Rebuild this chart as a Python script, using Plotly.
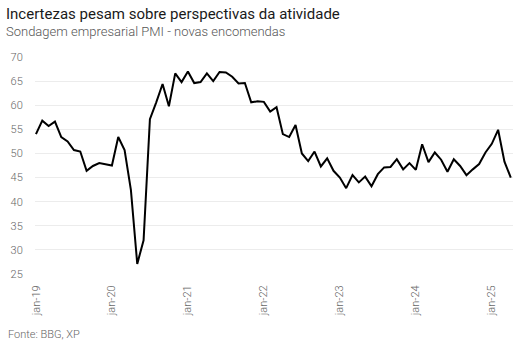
import plotly.graph_objects as go

# Monthly PMI new orders, Jan-2019 .. Apr-2025
months = []
for yr in range(2019, 2026):
    for m in range(1, 13):
        months.append(f"{yr}-{m:02d}")
months = months[:76]

values = [
    # 2019
    54.0, 56.8, 55.7, 56.6, 53.4, 52.5, 50.7, 50.4, 46.4, 47.4, 48.0, 47.7,
    # 2020
    47.5, 53.4, 50.7, 42.4, 27.1, 32.0, 57.1, 60.6, 64.4, 59.8, 66.6, 64.8,
    # 2021
    67.0, 64.6, 64.8, 66.6, 65.0, 66.9, 66.8, 65.9, 64.5, 64.6, 60.6, 60.8,
    # 2022
    60.7, 58.7, 59.6, 54.0, 53.4, 55.9, 50.0, 48.4, 50.4, 47.3, 49.0, 46.4,
    # 2023
    45.0, 42.8, 45.5, 44.0, 45.2, 43.2, 45.7, 47.1, 47.2, 48.8, 46.7, 48.0,
    # 2024
    46.6, 51.9, 48.2, 50.2, 48.7, 46.2, 48.8, 47.4, 45.5, 46.7, 47.8, 50.2,
    # 2025
    52.0, 54.9, 48.3, 45.0,
]

tick_idx = [0, 12, 24, 36, 48, 60, 72]
tick_labels = ["jan-19", "jan-20", "jan-21", "jan-22", "jan-23", "jan-24", "jan-25"]
y_ticks = [25, 30, 35, 40, 45, 50, 55, 60, 65, 70]

title = "Incertezas pesam sobre perspectivas da atividade"
subtitle = "Sondagem empresarial PMI - novas encomendas"
source = "Fonte: BBG, XP"

x_idx = list(range(len(values)))

fig = go.Figure()
fig.add_trace(go.Scatter(
    x=x_idx, y=values, mode="lines",
    line=dict(color="#000000", width=2),
    hoverinfo="skip", showlegend=False,
))

W, H = 531, 354
ml, mr, mt, mb = 35, 18, 57, 80
pw, ph = W - ml - mr, H - mt - mb

def px_x(x):
    return (x - ml) / pw

def px_y(y):
    return (H - mb - y) / ph

fig.update_layout(
    width=W, height=H,
    margin=dict(l=ml, r=mr, t=mt, b=mb, pad=0),
    paper_bgcolor="white", plot_bgcolor="white",
    font=dict(family="Roboto", color="#666666", size=11),
    xaxis=dict(
        range=[-0.15, 75.35],
        tickmode="array", tickvals=tick_idx, ticktext=tick_labels,
        tickangle=-90, showgrid=False, zeroline=False, showline=False,
        ticks="outside", ticklen=6, tickcolor="rgba(0,0,0,0)",
        tickfont=dict(family="Roboto", size=11, color="#666666", weight=300),
        fixedrange=True,
    ),
    yaxis=dict(
        range=[25, 70],
        tickmode="array", tickvals=y_ticks,
        showgrid=True, gridcolor="#ececec", gridwidth=1,
        zeroline=False, showline=False,
        ticks="outside", ticklen=9, tickcolor="rgba(0,0,0,0)",
        tickfont=dict(family="Roboto", size=11, color="#666666", weight=300),
        fixedrange=True,
    ),
    annotations=[
        dict(text=title, xref="paper", yref="paper", x=px_x(4), y=px_y(14),
             xanchor="left", yanchor="middle", showarrow=False,
             font=dict(family="Roboto", size=15, color="#1a1a1a", weight=400)),
        dict(text=subtitle, xref="paper", yref="paper", x=px_x(4), y=px_y(31),
             xanchor="left", yanchor="middle", showarrow=False,
             font=dict(family="Roboto", size=13, color="#555555", weight=300)),
        dict(text=source, xref="paper", yref="paper", x=px_x(6), y=px_y(334),
             xanchor="left", yanchor="middle", showarrow=False,
             font=dict(family="Roboto", size=11, color="#666666", weight=300)),
    ],
)

fig.write_html("out.html", config={"displayModeBar": False})
